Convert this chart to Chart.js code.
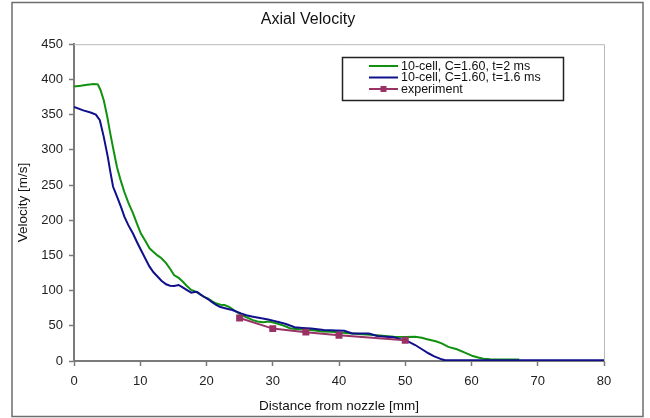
<!DOCTYPE html>
<html>
<head>
<meta charset="utf-8">
<script src="https://cdn.jsdelivr.net/npm/chart.js@4/dist/chart.umd.min.js"></script>
<style>
body { margin: 0; background: #fff; }
#cvs { display: block; }
</style>
</head>
<body>
<canvas id="cvs" width="650" height="418"></canvas>
<script>
// series: 10-cell, C=1.60, t=2 ms
var distGreen = [0, 1, 2, 3, 3.6, 4.0, 4.5, 5.0, 5.5, 6.0, 6.5, 7.0, 7.6, 8.2, 8.9, 9.5, 10.1, 10.8, 11.4, 12.0,
	12.6, 13.2, 13.9, 14.5, 15.1, 15.8, 16.4, 17.0, 17.7, 18.3, 19.0, 19.6, 20.2, 20.8, 21.4, 22.1, 22.7, 23.4, 24.0,
	24.5, 25.2, 25.8, 26.4, 27.0, 27.7, 28.5, 29.5, 30.4, 31.4, 32.0, 32.7, 34.0, 35.8, 37.5, 38.9, 40.5, 42, 43.5,
	45.2, 47, 48.3, 50, 51.5, 52.5, 53.3, 54.6, 55.5, 56.5, 57.8, 59, 60.2, 61, 61.8, 62.8, 65, 67.2];
var velGreen = [390, 391, 392.5, 393.5, 393, 385, 370, 348, 322, 298, 275, 258, 240, 225, 210, 195, 181, 170, 160, 155,
	150, 146, 139, 131, 122, 118, 113, 107, 101, 99, 95, 91, 89, 85, 82, 80, 79.5, 77, 73,
	70, 66, 63, 60.6, 58, 56, 55, 56, 54, 51, 49, 46, 45, 44, 42, 41.6, 40, 39, 38,
	37, 35.5, 34.5, 34, 34.5, 33, 31, 28, 25, 20, 16.6, 12, 7, 5, 3.3, 2.4, 2, 2];

// series: 10-cell, C=1.60, t=1.6 ms
var distBlue = [0, 1.4, 2.5, 3.3, 3.9, 4.5, 5.1, 5.5, 5.9, 6.3, 6.7, 7.2, 7.6, 8.2, 8.9, 9.5, 10.1, 10.8, 11.4, 12.0,
	12.6, 13.2, 13.9, 14.5, 15.1, 15.8, 16.4, 17.0, 17.7, 18.2, 18.6, 19.0, 19.5, 20.2, 20.8, 21.4, 22.0, 22.8, 23.9,
	25.2, 26.0, 27.0, 28.3, 29.3, 30.2, 31.0, 32.0, 33.3, 34.5, 35.8, 37.7, 39.5, 40.8, 42, 43.5, 44.5, 45.8, 47.0,
	48.3, 49.3, 50.2, 51.5, 52.7, 53.5, 54.3, 55.5, 56, 80];
var velBlue = [361, 356, 353, 350, 342, 318, 290, 268, 247.5, 238, 228.6, 216, 205, 193, 181, 169, 157.6, 145, 134, 126,
	120, 114, 109, 107, 106.5, 108, 104.6, 101, 97, 98, 98, 95, 92, 88, 84, 80, 77, 75, 72.4,
	67.7, 65, 63, 60.6, 59, 57, 55, 52.5, 48, 47, 46, 44, 43.5, 43, 39, 39, 39, 35.5, 34.5,
	33.6, 31, 29, 22.7, 15.6, 11, 7, 2.4, 1, 1];

// experiment
var distExp = [25, 30, 35, 40, 50];
var velExp = [61, 46, 41, 36.5, 29.5];

var seriesLabels = ["10-cell, C=1.60, t=2 ms", "10-cell, C=1.60, t=1.6 ms", "experiment"];

function pts(xs, ys) {
	return xs.map(function (x, i) { return { x: x, y: ys[i] }; });
}

var font = "'Liberation Sans', Arial, sans-serif";
var axisColor = "#7a7a7a";

// outer border, plot frame and boxed legend
var frame = {
	id: "frame",
	beforeDraw: function (chart) {
		var ctx = chart.ctx;
		ctx.save();
		ctx.fillStyle = "#fff";
		ctx.fillRect(0, 0, chart.width, chart.height);
		ctx.restore();
	},
	afterDatasetsDraw: function (chart) {
		var ctx = chart.ctx, a = chart.chartArea;
		ctx.save();
		ctx.strokeStyle = "#b8b8b8";
		ctx.lineWidth = 1;
		ctx.beginPath();
		ctx.moveTo(a.left, a.top + 0.5);
		ctx.lineTo(a.right + 0.5, a.top + 0.5);
		ctx.lineTo(a.right + 0.5, a.bottom);
		ctx.stroke();

		ctx.strokeStyle = "#6e6e6e";
		ctx.lineWidth = 1.5;
		ctx.strokeRect(12, 2.5, 631, 414);

		// legend
		var lx = 342.5, ly = 57.5, lw = 221, lh = 43;
		ctx.strokeStyle = "#222";
		ctx.lineWidth = 1.5;
		ctx.fillStyle = "#fff";
		ctx.fillRect(lx, ly, lw, lh);
		ctx.strokeRect(lx, ly, lw, lh);
		ctx.font = "12.5px " + font;
		ctx.textBaseline = "middle";
		ctx.textAlign = "left";
		var rows = [66, 77.5, 89];
		chart.data.datasets.forEach(function (ds, i) {
			var y = rows[i];
			ctx.strokeStyle = ds.borderColor;
			ctx.lineWidth = 2;
			ctx.beginPath();
			ctx.moveTo(369, y);
			ctx.lineTo(398, y);
			ctx.stroke();
			if (ds.pointRadius > 0) {
				ctx.fillStyle = ds.pointBackgroundColor;
				ctx.fillRect(380.5, y - 3, 6, 6);
			}
			ctx.fillStyle = "#111";
			ctx.fillText(ds.label, 401, y + 0.5);
		});
		ctx.restore();
	}
};

var config = {
	type: "line",
	data: {
		datasets: [{
			label: seriesLabels[0],
			data: pts(distGreen, velGreen),
			borderColor: "rgb(16,145,16)",
			borderWidth: 2,
			pointRadius: 0,
			order: 2
		}, {
			label: seriesLabels[1],
			data: pts(distBlue, velBlue),
			borderColor: "rgb(16,16,140)",
			borderWidth: 2,
			pointRadius: 0,
			order: 1
		}, {
			label: seriesLabels[2],
			data: pts(distExp, velExp),
			borderColor: "rgb(153,51,102)",
			backgroundColor: "rgb(153,51,102)",
			pointBackgroundColor: "rgb(153,51,102)",
			pointBorderColor: "rgb(153,51,102)",
			pointStyle: "rect",
			pointRadius: 3.5,
			borderWidth: 2,
			order: 0
		}]
	},
	options: {
		responsive: false,
		animation: false,
		layout: {
			padding: { left: 12, right: 46, top: 0, bottom: 2 }
		},
		plugins: {
			legend: { display: false },
			tooltip: { enabled: false },
			title: {
				display: true,
				text: "Axial Velocity",
				color: "#111",
				font: { family: font, size: 16, weight: "normal" },
				padding: { top: 10, bottom: 15 }
			}
		},
		scales: {
			x: {
				type: "linear",
				min: 0,
				max: 80,
				ticks: { stepSize: 10, color: "#222", font: { family: font, size: 13 }, padding: 8, maxRotation: 0 },
				grid: { drawOnChartArea: false, tickLength: 5, tickColor: axisColor, tickWidth: 1.5 },
				border: { color: axisColor, width: 2 },
				title: { display: true, text: "Distance from nozzle [mm]", color: "#111", font: { family: font, size: 13.5 }, padding: { top: 0, bottom: 2 } },
				afterFit: function (scale) { scale.height = 55; }
			},
			y: {
				min: 0,
				max: 450,
				ticks: { stepSize: 50, color: "#222", font: { family: font, size: 13 }, padding: 6 },
				grid: { drawOnChartArea: false, tickLength: 5, tickColor: axisColor, tickWidth: 1.5 },
				border: { color: axisColor, width: 2 },
				title: { display: true, text: "Velocity [m/s]", color: "#111", font: { family: font, size: 13.5 }, padding: { top: 3, bottom: 0 } },
				afterFit: function (scale) { scale.width = 62; }
			}
		}
	},
	plugins: [frame]
};

var chart = new Chart("cvs", config);
</script>
</body>
</html>
